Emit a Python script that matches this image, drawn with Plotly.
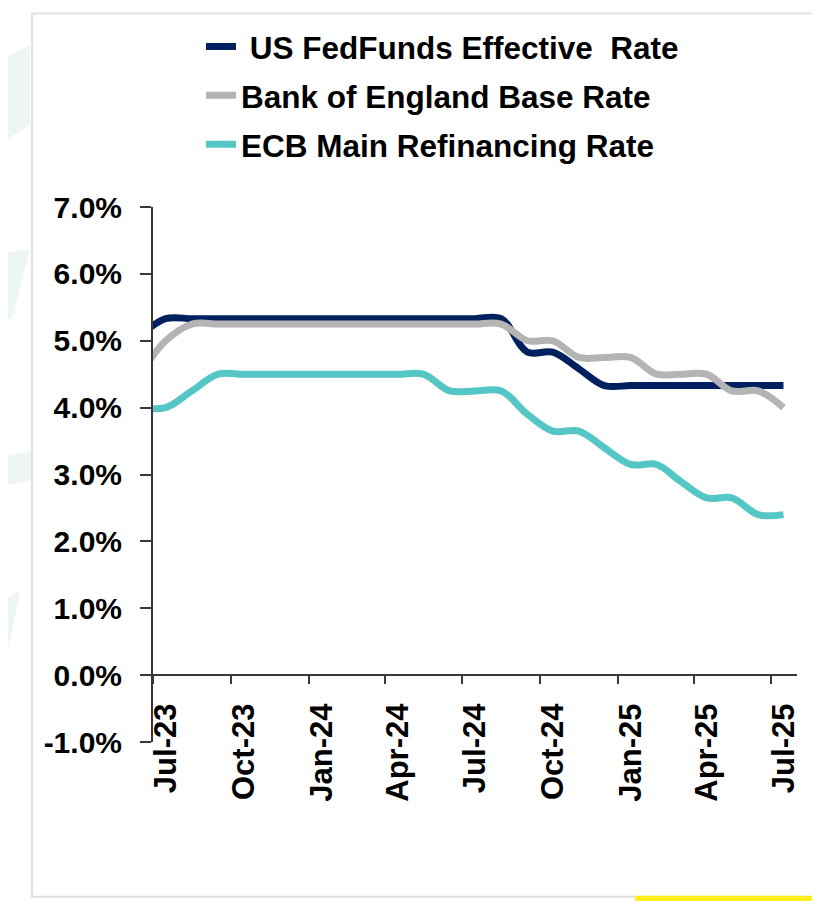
import plotly.graph_objects as go

# ---------------- data ----------------
dates = [
    "2023-06-16", "2023-07-16", "2023-08-16", "2023-09-16", "2023-10-16",
    "2023-11-16", "2023-12-16", "2024-01-16", "2024-02-16", "2024-03-16",
    "2024-04-16", "2024-05-16", "2024-06-16", "2024-07-16", "2024-08-16",
    "2024-09-16", "2024-10-16", "2024-11-16", "2024-12-16", "2025-01-16",
    "2025-02-16", "2025-03-16", "2025-04-16", "2025-05-16", "2025-06-16",
    "2025-07-16",
]

fed_funds = [5.08, 5.33, 5.33, 5.33, 5.33, 5.33, 5.33, 5.33, 5.33, 5.33,
             5.33, 5.33, 5.33, 5.33, 5.33, 4.83, 4.83, 4.58, 4.33, 4.33,
             4.33, 4.33, 4.33, 4.33, 4.33, 4.33]

boe_base = [4.50, 5.00, 5.25, 5.25, 5.25, 5.25, 5.25, 5.25, 5.25, 5.25,
            5.25, 5.25, 5.25, 5.25, 5.25, 5.00, 5.00, 4.75, 4.75, 4.75,
            4.50, 4.50, 4.50, 4.25, 4.25, 4.00]

ecb_mro = [4.00, 4.00, 4.25, 4.50, 4.50, 4.50, 4.50, 4.50, 4.50, 4.50,
           4.50, 4.50, 4.25, 4.25, 4.25, 3.90, 3.65, 3.65, 3.40, 3.15,
           3.15, 2.90, 2.65, 2.65, 2.40, 2.40]

series_names = ["\u00a0US FedFunds Effective\u00a0 Rate",
                "Bank of England Base Rate",
                "ECB Main Refinancing Rate"]

x_tick_dates = ["2023-07-01", "2023-10-01", "2024-01-01", "2024-04-01",
                "2024-07-01", "2024-10-01", "2025-01-01", "2025-04-01",
                "2025-07-01"]
x_tick_labels = ["Jul-23", "Oct-23", "Jan-24", "Apr-24", "Jul-24",
                 "Oct-24", "Jan-25", "Apr-25", "Jul-25"]

y_tick_vals = [-1, 0, 1, 2, 3, 4, 5, 6, 7]
y_tick_labels = ["-1.0%", "0.0%", "1.0%", "2.0%", "3.0%", "4.0%",
                 "5.0%", "6.0%", "7.0%"]

# ---------------- styling ----------------
colors = ["#002060", "#B4B4B4", "#54C6C6"]
axis_color = "#3d3636"
FONT = "Arial, Liberation Sans, sans-serif"

fig = go.Figure()
for i, (name, vals) in enumerate(zip(series_names, [fed_funds, boe_base, ecb_mro])):
    fig.add_trace(go.Scatter(
        x=dates, y=vals, mode="lines", name=name,
        legendgroup=f"g{i}",
        line=dict(color=colors[i], width=7, shape="spline", smoothing=1.0),
        hoverinfo="skip",
    ))

# paper-coordinate helpers for decorations (screen px; plot area x 153..797, y 203..742)
def px(x):
    return (x - 153) / 644.0

def py(y):
    return (742 - y) / 539.0

shapes = []
# faint decorative patches on the left strip
for pts in [
    [(0, 55), (30, 40), (30, 120), (0, 140)],
    [(0, 250), (30, 245), (12, 315), (0, 318)],
    [(0, 455), (32, 448), (32, 478), (0, 484)],
    [(0, 600), (20, 590), (8, 650), (0, 655)],
]:
    path = "M " + " L ".join(f"{px(a)},{py(b)}" for a, b in pts) + " Z"
    shapes.append(dict(type="path", xref="paper", yref="paper", path=path,
                       fillcolor="#eef5f5", line=dict(width=0), layer="below"))
# white card with light border
shapes.append(dict(type="rect", xref="paper", yref="paper",
                   x0=px(32), x1=px(830), y0=py(898), y1=py(8),
                   fillcolor="white", line=dict(color="#e4e0df", width=2),
                   layer="below"))
# yellow strip at bottom right
shapes.append(dict(type="rect", xref="paper", yref="paper",
                   x0=px(635), x1=px(830), y0=py(905), y1=py(897),
                   fillcolor="#FFEF1A", line=dict(width=0), layer="below"))

fig.update_layout(
    width=820, height=901,
    margin=dict(l=145, r=31, t=195, b=167),
    paper_bgcolor="white",
    plot_bgcolor="rgba(0,0,0,0)",
    font=dict(family=FONT, size=30, color="black", weight="bold"),
    showlegend=True,
    legend=dict(
        x=px(201), xanchor="left",
        y=py(14), yanchor="top",
        orientation="v",
        bgcolor="rgba(0,0,0,0)",
        font=dict(family=FONT, size=31.5, color="black", weight="bold"),
        tracegroupgap=5,
        itemwidth=30,
    ),
    shapes=shapes,
    xaxis=dict(
        type="date",
        range=["2023-07-01", "2025-08-01"],
        tickmode="array", tickvals=x_tick_dates, ticktext=x_tick_labels,
        tickangle=-90,
        ticks="outside", ticklen=8, tickwidth=2, tickcolor=axis_color,
        showline=True, linecolor=axis_color, linewidth=2,
        showgrid=False, zeroline=False,
        anchor="free", position=0.125,
        ticklabelshift=13, ticklabelstandoff=7,
        tickfont=dict(family=FONT, size=31, color="black", weight="bold"),
    ),
    yaxis=dict(
        range=[-1, 7],
        tickmode="array", tickvals=y_tick_vals, ticktext=y_tick_labels,
        ticks="outside", ticklen=11, tickwidth=2, tickcolor=axis_color,
        showline=True, linecolor=axis_color, linewidth=2,
        showgrid=False, zeroline=False,
        ticklabelstandoff=12,
        tickfont=dict(family=FONT, size=30, color="black", weight="bold"),
    ),
)

fig.write_html("out.html")
